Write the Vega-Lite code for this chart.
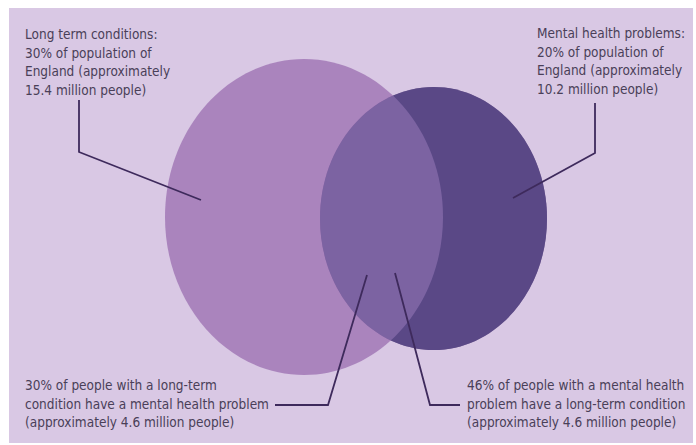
{
  "$schema": "https://vega.github.io/schema/vega-lite/v6.json",
  "width": 684,
  "height": 435,
  "autosize": {"type": "none"},
  "padding": {"left": 9, "top": 8, "right": 3, "bottom": 2},
  "background": "#ffffff",
  "config": {"view": {"fill": "#d9c8e4", "stroke": null}},
  "datasets": {
    "small": [{"set": "Mental health problems", "cx": 433.5, "cy": 218.5}],
    "large": [{"set": "Long term conditions", "cx": 304, "cy": 217}],
    "leaders": [
      {"id": "ltc", "seq": 1, "x": 79, "y": 100},
      {"id": "ltc", "seq": 2, "x": 79, "y": 152},
      {"id": "ltc", "seq": 3, "x": 201, "y": 200},
      {"id": "mh", "seq": 1, "x": 595, "y": 103},
      {"id": "mh", "seq": 2, "x": 595, "y": 153},
      {"id": "mh", "seq": 3, "x": 513, "y": 198},
      {"id": "ltc_mh", "seq": 1, "x": 367, "y": 275},
      {"id": "ltc_mh", "seq": 2, "x": 328, "y": 405},
      {"id": "ltc_mh", "seq": 3, "x": 275, "y": 405},
      {"id": "mh_ltc", "seq": 1, "x": 395, "y": 273},
      {"id": "mh_ltc", "seq": 2, "x": 430, "y": 405},
      {"id": "mh_ltc", "seq": 3, "x": 460, "y": 405}
    ],
    "labels": [
      {"x": 25, "y": 39, "label": "Long term conditions:\n30% of population of\nEngland (approximately\n15.4 million people)"},
      {"x": 537, "y": 38, "label": "Mental health problems:\n20% of population of\nEngland (approximately\n10.2 million people)"},
      {"x": 25, "y": 390, "label": "30% of people with a long-term\ncondition have a mental health problem\n(approximately 4.6 million people)"},
      {"x": 467, "y": 390, "label": "46% of people with a mental health\nproblem have a long-term condition\n(approximately 4.6 million people)"}
    ]
  },
  "layer": [
    {
      "data": {"name": "small"},
      "mark": {
        "type": "point",
        "filled": true,
        "strokeWidth": 0,
        "opacity": 1,
        "color": "#34195d",
        "size": 51529,
        "shape": "M1,0C1,0.6399,0.5523,1.1586,0,1.1586C-0.5523,1.1586,-1,0.6399,-1,0C-1,-0.6399,-0.5523,-1.1586,0,-1.1586C0.5523,-1.1586,1,-0.6399,1,0Z"
      },
      "encoding": {
        "x": {"field": "cx", "type": "quantitative", "scale": {"domain": [9, 693], "nice": false, "zero": false}, "axis": null},
        "y": {"field": "cy", "type": "quantitative", "scale": {"domain": [8, 443], "nice": false, "zero": false, "reverse": true}, "axis": null}
      }
    },
    {
      "data": {"name": "large"},
      "mark": {
        "type": "point",
        "filled": true,
        "strokeWidth": 0,
        "opacity": 0.7,
        "color": "#9566ad",
        "size": 77284,
        "shape": "M1,0C1,0.6278,0.5523,1.1367,0,1.1367C-0.5523,1.1367,-1,0.6278,-1,0C-1,-0.6278,-0.5523,-1.1367,0,-1.1367C0.5523,-1.1367,1,-0.6278,1,0Z"
      },
      "encoding": {
        "x": {"field": "cx", "type": "quantitative"},
        "y": {"field": "cy", "type": "quantitative"}
      }
    },
    {
      "data": {"name": "small"},
      "mark": {
        "type": "point",
        "filled": true,
        "strokeWidth": 0,
        "opacity": 0.5,
        "color": "#8077af",
        "size": 51529,
        "shape": "M1,0C1,0.6399,0.5523,1.1586,0,1.1586C-0.5523,1.1586,-1,0.6399,-1,0C-1,-0.6399,-0.5523,-1.1586,0,-1.1586C0.5523,-1.1586,1,-0.6399,1,0Z"
      },
      "encoding": {
        "x": {"field": "cx", "type": "quantitative"},
        "y": {"field": "cy", "type": "quantitative"}
      }
    },
    {
      "data": {"name": "leaders"},
      "mark": {"type": "line", "color": "#3e2a5c", "strokeWidth": 1.8},
      "encoding": {
        "x": {"field": "x", "type": "quantitative"},
        "y": {"field": "y", "type": "quantitative"},
        "detail": {"field": "id"},
        "order": {"field": "seq"}
      }
    },
    {
      "data": {"name": "labels"},
      "mark": {
        "type": "text",
        "align": "left",
        "baseline": "alphabetic",
        "lineBreak": "\n",
        "lineHeight": 18.5,
        "font": "DejaVu Sans Condensed, sans-serif",
        "fontSize": 13.5,
        "color": "#4a3f58"
      },
      "encoding": {
        "x": {"field": "x", "type": "quantitative"},
        "y": {"field": "y", "type": "quantitative"},
        "text": {"field": "label"}
      }
    }
  ]
}
